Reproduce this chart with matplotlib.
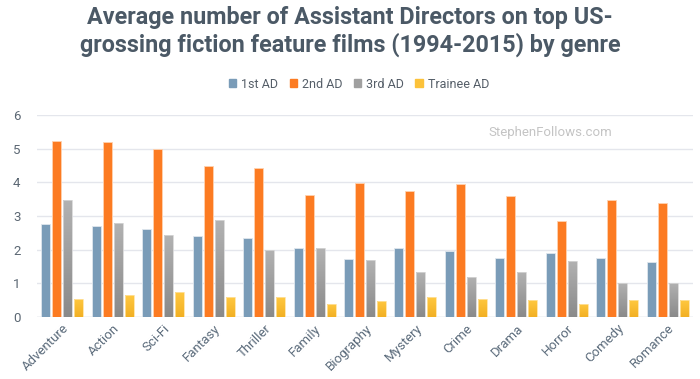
import numpy as np
import matplotlib.pyplot as plt
from matplotlib.patches import Patch

# Данные по жанрам
genres = ['Adventure', 'Action', 'Sci-Fi', 'Fantasy', 'Thriller', 'Family', 'Biography',
          'Mystery', 'Crime', 'Drama', 'Horror', 'Comedy', 'Romance']
first_ad = [2.75, 2.70, 2.62, 2.40, 2.35, 2.04, 1.72, 2.04, 1.96, 1.75, 1.90, 1.75, 1.62]
second_ad = [5.24, 5.21, 4.98, 4.50, 4.42, 3.62, 3.99, 3.73, 3.96, 3.59, 2.85, 3.48, 3.40]
third_ad = [3.48, 2.80, 2.43, 2.88, 1.99, 2.04, 1.69, 1.34, 1.19, 1.34, 1.67, 1.01, 1.01]
trainee_ad = [0.54, 0.65, 0.73, 0.59, 0.59, 0.40, 0.48, 0.59, 0.54, 0.50, 0.40, 0.50, 0.50]
series_names = ['1st AD', '2nd AD', '3rd AD', 'Trainee AD']

plt.rcParams['font.family'] = ['Roboto', 'DejaVu Sans']

fig = plt.figure(figsize=(7, 3.79), dpi=100)
ax = fig.add_axes([37 / 700, 1 - 317 / 379, 656 / 700, 202 / 379])

x = np.arange(len(genres))
pitch = 0.218
width = 0.178
offsets = (np.arange(4) - 1.5) * pitch

# 1st AD и 2nd AD - сплошная заливка
ax.bar(x + offsets[0], first_ad, width, color='#7a9cb8', edgecolor='#dfe7ee', linewidth=0.6, zorder=3)
ax.bar(x + offsets[1], second_ad, width, color='#fc7b22', edgecolor='#ffd2b0', linewidth=0.6, zorder=3)

# 3rd AD и Trainee AD - градиент сверху вниз
def gradient_bars(xs, vals, top, bottom, edge):
    grad = np.linspace(0, 1, 64).reshape(-1, 1)
    c0 = np.array(plt.matplotlib.colors.to_rgb(top))
    c1 = np.array(plt.matplotlib.colors.to_rgb(bottom))
    img = c0 + (c1 - c0) * grad[:, :, None]
    bars = ax.bar(xs, vals, width, color='none', edgecolor=edge, linewidth=0.6, zorder=4)
    for b in bars:
        x0, y0 = b.get_x(), b.get_y()
        im = ax.imshow(img, extent=[x0, x0 + b.get_width(), y0, y0 + b.get_height()],
                       aspect='auto', origin='upper', zorder=3)
        im.set_clip_path(b)

gradient_bars(x + offsets[2], third_ad, '#b2b2b2', '#8a8a8a', '#d6d6d6')
gradient_bars(x + offsets[3], trainee_ad, '#ffc840', '#f2b024', '#ffe2a0')

ax.set_xlim(-0.5, len(genres) - 0.5)
ax.set_ylim(0, 6)
ax.set_yticks(range(0, 7))
ax.yaxis.grid(True, color='#e4e6ec', linewidth=1, zorder=0)
ax.set_axisbelow(True)
for s in ax.spines.values():
    s.set_visible(False)
ax.axhline(0, color='#dcdfe6', linewidth=1, zorder=2)
ax.tick_params(axis='both', length=0, colors='#5b6773', labelsize=9.5)
ax.tick_params(axis='y', pad=12)
ax.set_xticks(x)
ax.set_xticklabels(genres, rotation=45, ha='right', rotation_mode='anchor', color='#5b6b7b')

fig.text(0.5, 0.953, 'Average number of Assistant Directors on top US-', ha='center', va='center',
         fontsize=16.8, fontweight='bold', color='#4b5966')
fig.text(0.5, 0.882, 'grossing fiction feature films (1994-2015) by genre', ha='center', va='center',
         fontsize=16.8, fontweight='bold', color='#4b5966')

handles = [Patch(color=c) for c in ['#7a9cb8', '#fc7b22', '#a0a0a0', '#fcc23a']]
fig.legend(handles, series_names, loc='center', bbox_to_anchor=(359 / 700, 1 - 84 / 379), ncol=4,
           frameon=False, fontsize=9, handlelength=0.6, handleheight=0.6, handletextpad=0.4,
           columnspacing=0.9, labelcolor='#555e68')

fig.text(550 / 700, 1 - 133 / 379, 'StephenFollows.com', ha='center', va='center',
         fontsize=9.5, color='#c4c4c4')

fig.savefig('out.png', dpi=100)
